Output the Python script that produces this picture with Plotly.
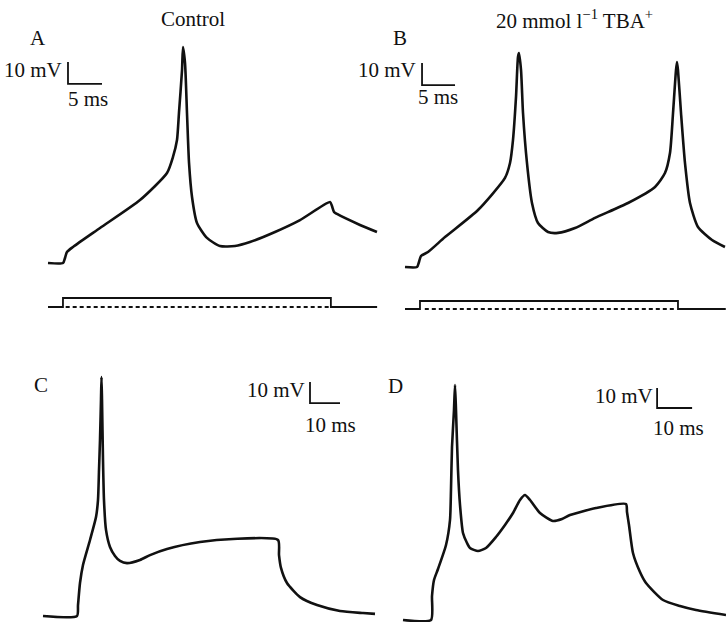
import plotly.graph_objects as go

W, H = 726, 622

# ---------------- data (time in ms from sweep start, voltage in mV rel. to rest) -------------
A_t = [0, 2.21, 2.5, 2.79, 3.68, 7.65, 13.53, 17.5, 18.38, 18.97, 19.26, 19.71, 19.85, 20.15,
       20.44, 20.74, 21.18, 21.91, 23.38, 25.29, 27.5, 29.7, 33.38, 37.06, 41.47, 41.76, 42.06,
       42.5, 45.88, 48.38]
A_v = [0, 0, 2.3, 5.0, 7.3, 15.9, 28.6, 40.9, 48.2, 55.9, 68.2, 87.7, 98.2, 90.9,
       68.2, 45.5, 30.0, 18.2, 11.4, 7.7, 7.7, 9.5, 14.1, 19.5, 27.7, 25.9, 23.2,
       22.3, 17.3, 14.1]
A_stim_t = [0, 2.2, 2.2, 41.6, 41.6, 48.4]
A_stim_i = [0, 0, 1, 1, 0, 0]
A_ref_t = [2.6, 41.6]
A_ref_i = [0, 0]

B_t = [0, 1.82, 2.12, 2.42, 3.48, 6.06, 11.06, 15.15, 15.91, 16.36, 16.82, 17.12, 17.27, 17.58,
       17.88, 18.48, 19.24, 20.15, 21.67, 23.18, 25.76, 28.79, 33.79, 37.88, 39.39, 40.15, 40.61,
       41.06, 41.21, 41.36, 41.82, 42.42, 43.18, 44.39, 46.52, 48.48]
B_v = [0, 0, 2.3, 5.0, 6.8, 13.6, 25.9, 40.5, 47.3, 57.7, 77.3, 95.5, 97.3, 89.5,
       70.0, 47.3, 29.1, 20.0, 15.9, 15.5, 17.7, 22.3, 29.1, 36.4, 42.7, 51.8, 70.0,
       89.5, 93.2, 89.5, 70.0, 47.3, 29.1, 18.2, 12.3, 9.1]
B_stim_t = [0, 2.27, 2.27, 41.36, 41.36, 48.6]
B_stim_i = [0, 0, 1, 1, 0, 0]
B_ref_t = [3.0, 40.9]
B_ref_i = [0, 0]

C_t = [0, 11.33, 11.67, 12.33, 13.33, 15.67, 17.67, 18.33, 18.67, 19.0, 19.33, 19.5, 19.67, 20.0,
       20.33, 21.0, 22.33, 24.0, 25.67, 28.0, 32.33, 35.67, 41.33, 52.33, 63.33, 78.33, 78.67,
       79.33, 81.33, 85.67, 91.33, 99.0, 106.67, 110.67]
C_v = [0, 0, 5.2, 15.7, 24.3, 36.2, 47.1, 55.2, 69.5, 83.8, 102.9, 113.8, 102.9, 74.3,
       55.2, 41.0, 32.9, 28.6, 26.2, 25.2, 26.7, 29.0, 31.9, 35.2, 36.7, 36.2, 29.0,
       22.9, 15.7, 9.0, 5.2, 2.4, 1.4, 1.0]

D_t = [0, 8.0, 8.29, 8.86, 10.0, 12.29, 13.43, 13.71, 14.0, 14.57, 14.86, 15.14, 15.71, 16.29,
       17.14, 18.29, 19.14, 21.43, 23.71, 26.57, 29.14, 31.43, 33.43, 34.86, 36.29, 39.14, 42.86,
       45.43, 47.71, 55.14, 63.71, 64.0, 64.57, 65.71, 67.71, 69.43, 74.29, 79.14, 83.71, 92.29]
D_v = [0, 0, 12, 20, 25.5, 37.5, 50, 65, 86.5, 105, 117.5, 105, 75, 57.5,
       43.5, 38.5, 36, 34.5, 36, 41.5, 47.5, 53.5, 60, 62.5, 60, 53.5, 49.5,
       50.5, 52.5, 56, 58, 54, 47.5, 33.5, 24, 18.5, 10, 7, 5, 2.5]

SCALE_MV = [10, 10, 10, 10]
SCALE_MS = [5, 5, 10, 10]

# ---------------- layout: pixel mapping of each panel's axes --------------------------------
# (origin x px, px per ms, origin y px, px per unit)
MAP = {
    1: (48, 6.8, 263, 2.2),    # A voltage
    2: (48, 6.8, 307, 9.0),    # A stimulus
    3: (405, 6.6, 267, 2.2),   # B voltage
    4: (405, 6.6, 309, 8.0),   # B stimulus
    5: (43, 3.0, 616, 2.1),    # C voltage
    6: (403, 3.5, 620, 2.0),   # D voltage
}
# scale-bar corner positions in panel units (layout)
BAR_POS = {1: (2.94, 81.4), 3: (2.58, 82.7), 5: (89.0, 101.4), 6: (72.6, 106.0)}

fig = go.Figure()
BLACK = "#111111"


def ax(i):
    return ("x" if i == 1 else f"x{i}"), ("y" if i == 1 else f"y{i}")


def add_line(i, x, y, width=2.6, dash=None, shape="linear"):
    xa, ya = ax(i)
    fig.add_trace(go.Scatter(x=x, y=y, xaxis=xa, yaxis=ya, mode="lines",
                             line=dict(color=BLACK, width=width, dash=dash, shape=shape,
                                       smoothing=0.6 if shape == "spline" else None),
                             hoverinfo="skip", showlegend=False))


add_line(1, A_t, A_v, shape="spline")
add_line(2, A_stim_t, A_stim_i, 1.8)
add_line(2, A_ref_t, A_ref_i, 1.8, "4px,3px")
add_line(3, B_t, B_v, shape="spline")
add_line(4, B_stim_t, B_stim_i, 1.8)
add_line(4, B_ref_t, B_ref_i, 1.8, "4px,3px")
add_line(5, C_t, C_v, shape="spline")
add_line(6, D_t, D_v, shape="spline")

for k, i in enumerate([1, 3, 5, 6]):
    cx, cy = BAR_POS[i]
    add_line(i, [cx, cx, cx + SCALE_MS[k]], [cy + SCALE_MV[k], cy, cy], 1.8)

layout = dict(width=W, height=H, margin=dict(l=0, r=0, t=0, b=0),
              paper_bgcolor="white", plot_bgcolor="rgba(0,0,0,0)", showlegend=False)
for i, (ox, sx, oy, sy) in MAP.items():
    xk = "xaxis" if i == 1 else f"xaxis{i}"
    yk = "yaxis" if i == 1 else f"yaxis{i}"
    xa, ya = ax(i)
    layout[xk] = dict(domain=[0, 1], range=[-ox / sx, (W - ox) / sx], visible=False,
                      anchor=ya, fixedrange=True)
    layout[yk] = dict(domain=[0, 1], range=[-(H - oy) / sy, oy / sy], visible=False,
                      anchor=xa, fixedrange=True)
fig.update_layout(**layout)

FONT = dict(family="Liberation Serif, Times New Roman, serif", size=21, color=BLACK)


def label(text, xpx, ypx, xanchor="center", size=21):
    fig.add_annotation(text=text, xref="paper", yref="paper", x=xpx / W, y=1 - ypx / H,
                       xanchor=xanchor, yanchor="middle", showarrow=False,
                       font=dict(FONT, size=size))


label("A", 38, 38)
label("B", 400, 38)
label("C", 41, 385)
label("D", 396, 386)
label("Control", 193, 19)
label("20 mmol l<sup>−1</sup> TBA<sup>+</sup>", 574, 19)
label("10 mV", 64, 70, "right")
label("5 ms", 66, 99, "left")
label("10 mV", 418, 70, "right")
label("5 ms", 416, 97, "left")
label("10 mV", 307, 390, "right")
label("10 ms", 303, 425, "left")
label("10 mV", 655, 396, "right")
label("10 ms", 651, 428, "left")

fig.write_html("out.html", config={"displayModeBar": False, "staticPlot": True},
               post_script="document.body.style.margin='0';document.body.style.overflow='hidden';")
